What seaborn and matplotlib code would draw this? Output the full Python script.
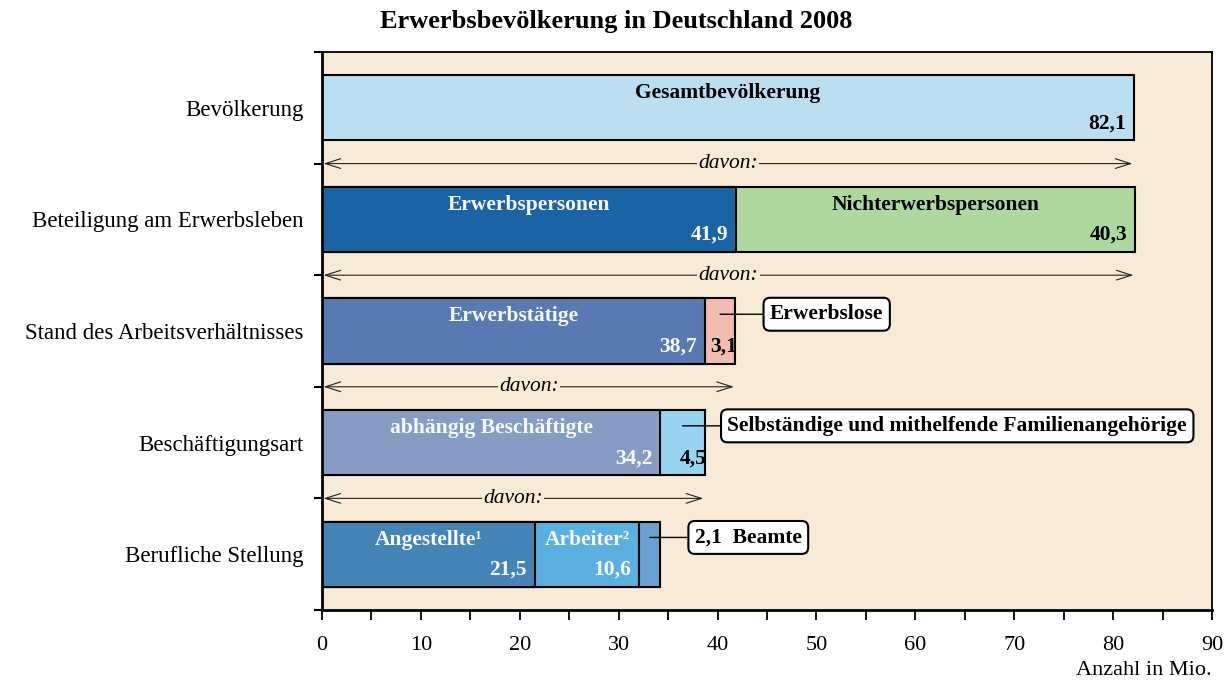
import pandas as pd
import numpy as np
import matplotlib.pyplot as plt
import seaborn as sns

# Daten
categories = ["Bevölkerung", "Beteiligung am Erwerbsleben", "Stand des Arbeitsverhältnisses",
              "Beschäftigungsart", "Berufliche Stellung"]
segments = [["Gesamtbevölkerung"],
            ["Erwerbspersonen", "Nichterwerbspersonen"],
            ["Erwerbstätige", "Erwerbslose"],
            ["abhängig Beschäftigte", "Selbständige und mithelfende Familienangehörige"],
            ["Angestellte¹", "Arbeiter²", "Beamte"]]
values = [[82.1], [41.9, 40.3], [38.7, 3.1], [34.2, 4.5], [21.5, 10.6, 2.1]]
value_labels = [["82,1"], ["41,9", "40,3"], ["38,7", "3,1"], ["34,2", "4,5"], ["21,5", "10,6", "2,1"]]

colors = {"Gesamtbevölkerung": "#BBDFF0", "Erwerbspersonen": "#1A64A6",
          "Nichterwerbspersonen": "#AFD8A1", "Erwerbstätige": "#5879B2",
          "Erwerbslose": "#F2BDAE", "abhängig Beschäftigte": "#879CC3",
          "Selbständige und mithelfende Familienangehörige": "#98D3F0",
          "Angestellte¹": "#4584B7", "Arbeiter²": "#5BB0E0", "Beamte": "#6AA1D2"}
dark = {"Erwerbspersonen", "Erwerbstätige", "abhängig Beschäftigte", "Angestellte¹", "Arbeiter²"}
callouts = {"Erwerbslose": ("Erwerbslose", 45.3),
            "Selbständige und mithelfende Familienangehörige": ("Selbständige und mithelfende Familienangehörige", 41.0),
            "Beamte": ("2,1  Beamte", 37.7)}

rows = []
for cat, segs, vals, labs in zip(categories, segments, values, value_labels):
    cum = np.cumsum(vals)
    for k, (s, v, l) in enumerate(zip(segs, vals, labs)):
        rows.append(dict(category=cat, segment=s, value=v, label=l, layer=k,
                         start=cum[k] - v, end=cum[k]))
df = pd.DataFrame(rows)

sns.set_style("ticks")
plt.rcParams['font.family'] = ['Liberation Serif', 'DejaVu Serif']
plt.rcParams['text.color'] = 'black'
plt.rcParams['xtick.color'] = 'black'
plt.rcParams['ytick.color'] = 'black'

bg = "#F7EBD7"
fig = plt.figure(figsize=(12.32, 6.83), dpi=100)
ax = fig.add_axes([0.2614, 0.1069, 0.7224, 0.8170])
ax.set_facecolor(bg)

bar_h = 0.585
# gestapelte Balken: kumulierte Enden, hinterste Ebene zuerst
for layer in sorted(df.layer.unique(), reverse=True):
    sub = df[df.layer == layer]
    sns.barplot(data=sub, x="end", y="category", hue="segment", palette=colors,
                order=categories, orient="h", dodge=False, width=bar_h, saturation=1,
                edgecolor="black", linewidth=1.5, legend=False, ax=ax)

ax.set_xlim(0, 90)
ax.set_ylim(4.5, -0.5)

# Beschriftungen in den Balken
for _, r in df.iterrows():
    i = categories.index(r.category)
    tc = "#F8F8F8" if r.segment in dark else "black"
    if r.segment not in callouts:
        ax.text((r.start + r.end) / 2, i - 0.13, r.segment, ha="center", va="center",
                fontsize=15.5, fontweight="bold", color=tc)
    if r.segment != "Beamte":
        ax.text(r.end - 0.8 if r.value > 5 else r.end + 0.15, i + 0.14, r.label,
                ha="right", va="center", fontsize=15.5, fontweight="bold", color=tc)
    if r.segment in callouts:
        txt, xbox = callouts[r.segment]
        ax.annotate(txt, xy=((r.start + r.end) / 2, i - 0.15), xytext=(xbox, i - 0.15),
                    ha="left", va="center", fontsize=15.5, fontweight="bold",
                    bbox=dict(boxstyle="round,pad=0.3", fc="white", ec="black", lw=1.5),
                    arrowprops=dict(arrowstyle="-", lw=1, color="black", shrinkA=0, shrinkB=0))

# davon-Pfeile
totals = [sum(v) for v in values]
for i in range(4):
    y = i + 0.5
    ax.annotate("", xy=(0.15, y), xytext=(totals[i] - 0.15, y),
                arrowprops=dict(arrowstyle="<->,head_length=1.1,head_width=0.35",
                                lw=0.8, color="#222222", shrinkA=0, shrinkB=0))
    ax.text(totals[i] / 2, y, "davon:", ha="center", va="center", fontsize=15.5,
            style="italic", bbox=dict(fc=bg, ec="none", pad=1))

# Achsen
ax.set_xticks(np.arange(0, 91, 10))
ax.set_xticks(np.arange(5, 90, 10), minor=True)
ax.tick_params(axis="x", which="both", direction="out", length=7, width=1.3, pad=12, labelsize=16)
ax.set_yticks(range(len(categories)))
ax.set_yticklabels(categories)
ax.set_yticks(np.arange(-0.5, 5, 1), minor=True)
ax.tick_params(axis="y", which="major", length=0, pad=13.5, labelsize=16.5)
ax.tick_params(axis="y", which="minor", direction="out", length=6, width=1.5)
ax.set_xlabel("")
ax.set_ylabel("")
for s in ax.spines.values():
    s.set_visible(True)
    s.set_color("black")
ax.spines["left"].set_linewidth(2)
ax.spines["bottom"].set_linewidth(2)
ax.spines["top"].set_linewidth(1.3)
ax.spines["right"].set_linewidth(1.3)

fig.text(0.5, 0.969, "Erwerbsbevölkerung in Deutschland 2008", ha="center", va="center",
         fontsize=19, fontweight="bold")
fig.text(0.9838, 0.0176, "Anzahl in Mio.", ha="right", va="center", fontsize=16)

fig.savefig("out.png", dpi=100)
